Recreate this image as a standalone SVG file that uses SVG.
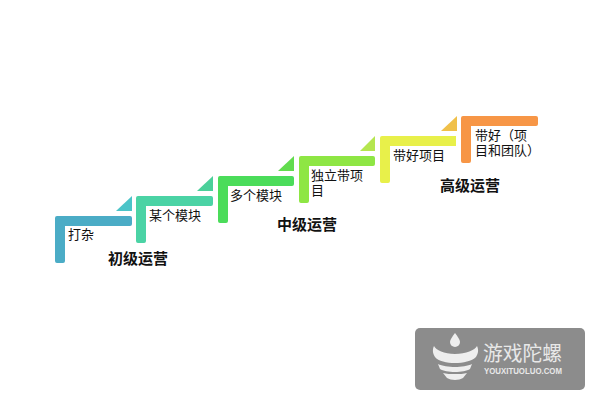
<svg xmlns="http://www.w3.org/2000/svg" width="600" height="400" viewBox="0 0 600 400">
<style>
.t{font-family:"Liberation Sans","Noto Sans CJK SC",sans-serif;font-size:13px;fill:#111}
.h{font-family:"Liberation Sans","Noto Sans CJK SC",sans-serif;font-size:15px;font-weight:700;fill:#111}
</style>
<rect width="600" height="400" fill="#fff"/>
<g id="step1"><path d="M130 216a2 2 0 0 1 2 2v6a2 2 0 0 1-2 2H65v35a2 2 0 0 1-2 2h-6a2 2 0 0 1-2-2V218a2 2 0 0 1 2-2z" fill="#4bacc6"/><path d="M132 196v15h-16z" fill="#4bc4c8"/><text class="t" x="68" y="239">打杂</text></g>
<g id="step2"><path d="M211 196a2 2 0 0 1 2 2v6a2 2 0 0 1-2 2H146v35a2 2 0 0 1-2 2h-6a2 2 0 0 1-2-2V198a2 2 0 0 1 2-2z" fill="#4bd3a5"/><path d="M213 176v15h-16z" fill="#4bd09a"/><text class="t" x="149" y="220">某个模块</text></g>
<g id="step3"><path d="M292 176a2 2 0 0 1 2 2v6a2 2 0 0 1-2 2H228v35a2 2 0 0 1-2 2h-6a2 2 0 0 1-2-2V178a2 2 0 0 1 2-2z" fill="#4bdc5a"/><path d="M294 156v15h-16z" fill="#62dc4e"/><text class="t" x="230" y="200">多个模块</text></g>
<g id="step4"><path d="M373 156a2 2 0 0 1 2 2v6a2 2 0 0 1-2 2H309v35a2 2 0 0 1-2 2h-6a2 2 0 0 1-2-2V158a2 2 0 0 1 2-2z" fill="#8ee644"/><path d="M375 136v15h-15z" fill="#b5e650"/><text class="t" x="311" y="180">独立带项</text><text class="t" x="311" y="195">目</text></g>
<g id="step5"><path d="M456 136v10H390v35a2 2 0 0 1-2 2h-6a2 2 0 0 1-2-2V138a2 2 0 0 1 2-2z" fill="#e8f04a"/><path d="M457 116v15h-16z" fill="#f0c04a"/><text class="t" x="393" y="160">带好项目</text></g>
<g id="step6"><path d="M536 116a2 2 0 0 1 2 2v6a2 2 0 0 1-2 2H471v35a2 2 0 0 1-2 2h-6a2 2 0 0 1-2-2V118a2 2 0 0 1 2-2z" fill="#f79646"/><text class="t" x="475" y="140">带好（项</text><text class="t" x="475" y="155">目和团队）</text></g>
<g id="label1"><text class="h" x="108" y="264">初级运营</text></g>
<g id="label2"><text class="h" x="277" y="230">中级运营</text></g>
<g id="label3"><text class="h" x="440" y="191">高级运营</text></g>
<g id="logo">
<rect x="415" y="328" width="170" height="62" rx="5" fill="#8c8c8c"/>
<path d="M455 333c3 4 5 7 5 9a5 5 0 0 1-10 0c0-2 2-5 5-9z" fill="#eee"/>
<path d="M434 346c2 4 10 8 21 8s20-4 22-8c2 4 1 8-1 11-4 4-13 6-21 6s-17-2-20-6c-2-3-3-7-1-11z" fill="#eee"/>
<path d="M438 364c4 2 11 3 17 3s13-1 17-3l-2 5c-3 2-9 3-15 3s-12-1-15-3z" fill="#eee"/>
<path d="M443 373c3 1 8 1 12 1s9 0 12-1l-4 5c-2 1-5 2-8 2s-6-1-8-2z" fill="#eee"/>
<text x="483" y="361" font-family="'Liberation Sans','Noto Sans CJK SC',sans-serif" font-size="20" fill="#e8e8e8" textLength="79" lengthAdjust="spacingAndGlyphs">游戏陀螺</text>
<text x="484" y="374" font-family="'Liberation Sans',sans-serif" font-size="9" font-weight="700" fill="#e8e8e8" textLength="78" lengthAdjust="spacingAndGlyphs">YOUXITUOLUO.COM</text>
</g>
</svg>
